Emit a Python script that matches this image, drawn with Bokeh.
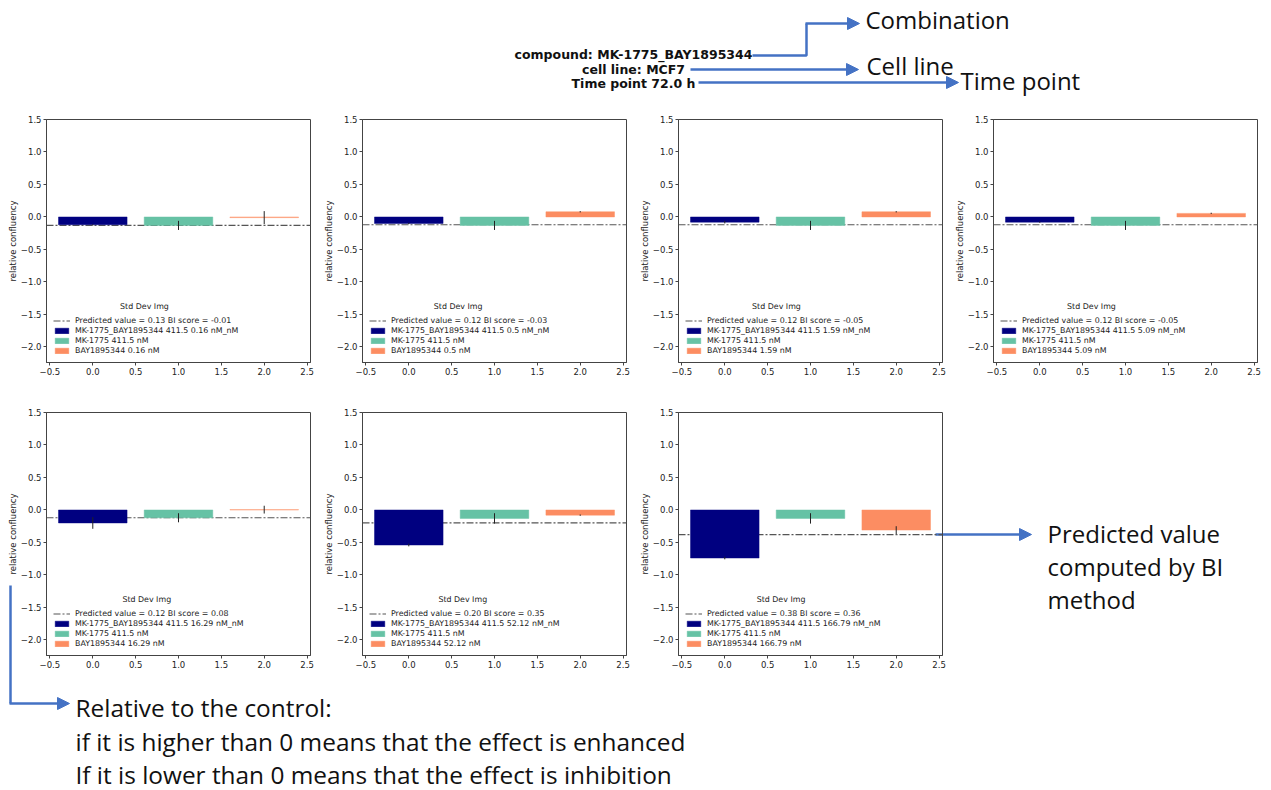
from bokeh.plotting import figure
from bokeh.models import (Range1d, ColumnDataSource, Legend, LegendItem, Label,
                          Arrow, NormalHead, FixedTicker, CustomJSTickFormatter)
from bokeh.embed import file_html
from bokeh.resources import INLINE
from bokeh.core.properties import value

# ---------------- data ----------------
COMPOUND = "MK-1775_BAY1895344"
CELL_LINE = "MCF7"
TIME_POINT = "72.0"
MK_DOSE = "411.5"
BAY_CONCS = ["0.16", "0.5", "1.59", "5.09", "16.29", "52.12", "166.79"]
PREDICTED = [0.13, 0.12, 0.12, 0.12, 0.12, 0.20, 0.38]
BI_SCORE = ["-0.01", "-0.03", "-0.05", "-0.05", "0.08", "0.35", "0.36"]
COMBO_VAL = [-0.12, -0.10, -0.08, -0.08, -0.20, -0.54, -0.74]
COMBO_ERR = [0.01, 0.01, 0.02, 0.01, 0.09, 0.02, 0.02]
MK_VAL = [-0.13, -0.13, -0.13, -0.13, -0.12, -0.13, -0.13]
MK_ERR = [0.07, 0.07, 0.07, 0.07, 0.07, 0.08, 0.08]
BAY_VAL = [-0.01, 0.08, 0.08, 0.055, 0.005, -0.08, -0.31]
BAY_ERR = [0.10, 0.01, 0.01, 0.01, 0.06, 0.01, 0.06]
X_POS = [0, 1, 2]
X_TICKS = [-0.5, 0.0, 0.5, 1.0, 1.5, 2.0, 2.5]
Y_TICKS = [-2.0, -1.5, -1.0, -0.5, 0.0, 0.5, 1.0, 1.5]
BAR_COLORS = ["#000080", "#66c2a5", "#fc8d62"]

XLIM = (-0.54, 2.54)
YLIM = (-2.24, 1.5)
FRAME_W, FRAME_H = 264, 243
BORDER_L, BORDER_T = 46, 5
FRAME_LEFTS = [46, 362, 678, 993, 46, 362, 678]
FRAME_TOPS = [119, 119, 119, 119, 412, 412, 412]

BLUE = "#4472C4"
DV = "DejaVu Sans"
LEG_FS = "7.9px"


def make_panel(i):
    p = figure(frame_width=FRAME_W, frame_height=FRAME_H,
               x_range=Range1d(*XLIM), y_range=Range1d(*YLIM),
               output_backend="svg", toolbar_location=None,
               min_border_left=BORDER_L, min_border_right=4,
               min_border_top=BORDER_T, min_border_bottom=22,
               background_fill_alpha=0, border_fill_alpha=0,
               outline_line_color="#444444", outline_line_width=1,
               styles={"position": "absolute",
                       "left": f"{FRAME_LEFTS[i] - BORDER_L}px",
                       "top": f"{FRAME_TOPS[i] - BORDER_T}px"})
    p.grid.visible = False

    pred_y = -PREDICTED[i]
    line_r = p.line(x=[XLIM[0], XLIM[1]], y=[pred_y, pred_y],
                    line_color="#555555", line_width=1.2, line_dash="7 2 2 2")

    vals = [COMBO_VAL[i], MK_VAL[i], BAY_VAL[i]]
    errs = [COMBO_ERR[i], MK_ERR[i], BAY_ERR[i]]
    labels = [f"{COMPOUND} {MK_DOSE} {BAY_CONCS[i]} nM_nM",
              f"MK-1775 {MK_DOSE} nM",
              f"BAY1895344 {BAY_CONCS[i]} nM"]
    src = ColumnDataSource(dict(
        x=X_POS, top=vals, color=BAR_COLORS,
        lo=[v - e for v, e in zip(vals, errs)],
        hi=[v + e for v, e in zip(vals, errs)]))
    bars = p.vbar(x="x", top="top", bottom=0, width=0.8, fill_color="color",
                  line_color="color", line_alpha=0.45, line_width=1, source=src)
    p.segment(x0="x", y0="lo", x1="x", y1="hi", line_color="#222222",
              line_width=1, source=src)

    items = [LegendItem(label=f"Predicted value = {PREDICTED[i]:.2f} BI score = {BI_SCORE[i]}",
                        renderers=[line_r])]
    for k in range(3):
        items.append(LegendItem(label=labels[k], renderers=[bars], index=k))
    leg = Legend(items=items, location="bottom_left",
                 background_fill_alpha=0, border_line_alpha=0,
                 label_text_font_size=LEG_FS, label_text_font=DV,
                 label_text_color="#222222",
                 glyph_width=17, glyph_height=7, label_height=8,
                 label_standoff=5, spacing=1, padding=2, margin=5)
    p.add_layout(leg)

    px_per_x = FRAME_W / (XLIM[1] - XLIM[0])
    px_per_y = FRAME_H / (YLIM[1] - YLIM[0])
    longest = max(len(s) for s in labels)
    center_px = 7 + (22 + 4.57 * longest) / 2
    p.add_layout(Label(x=XLIM[0] + center_px / px_per_x,
                       y=YLIM[0] + 56.5 / px_per_y,
                       text="Std Dev Img", text_align="center",
                       text_baseline="middle", text_font_size=LEG_FS,
                       text_font=DV, text_color="#222222"))

    fmt = CustomJSTickFormatter(code="return tick.toFixed(1).replace('-', '\\u2212');")
    p.xaxis.ticker = FixedTicker(ticks=X_TICKS)
    p.yaxis.ticker = FixedTicker(ticks=Y_TICKS)
    p.xaxis.formatter = fmt
    p.yaxis.formatter = fmt
    p.yaxis.axis_label = "relative confluency"
    for ax in (p.xaxis, p.yaxis):
        ax.major_label_text_font_size = "8.5px"
        ax.major_label_text_font = DV
        ax.major_label_text_color = "#222222"
        ax.axis_line_color = "#444444"
        ax.major_tick_line_color = "#444444"
        ax.major_tick_out = 3
        ax.major_tick_in = 0
        ax.minor_tick_out = 0
        ax.minor_tick_in = 0
        ax.major_label_standoff = 2
        ax.axis_label_text_font_size = "8.5px"
        ax.axis_label_text_font_style = "normal"
        ax.axis_label_text_font = DV
        ax.axis_label_text_color = "#222222"
        ax.axis_label_standoff = 0
    return p


# ---------------- background / annotations ----------------
bg = figure(width=1271, height=790, x_range=Range1d(0, 1271), y_range=Range1d(790, 0),
            output_backend="svg", toolbar_location=None, min_border=0,
            min_border_left=0, min_border_right=0, min_border_top=0, min_border_bottom=0,
            x_axis_type=None, y_axis_type=None, outline_line_color=None,
            styles={"position": "absolute", "left": "0px", "top": "0px"})
bg.grid.visible = False

bg.text(x=[633, 633, 633], y=[54, 69, 83],
        text=[f"compound: {COMPOUND}", f"cell line: {CELL_LINE}", f"Time point {TIME_POINT} h"],
        text_align="center", text_baseline="middle", text_font=value(DV),
        text_font_style="bold", text_font_size="12.5px", text_color="#111111")

bg.line(x=[752, 806, 806], y=[55, 55, 23], line_color=BLUE, line_width=2.5)
bg.line(x=[10, 10], y=[585, 703], line_color=BLUE, line_width=2.5)


def arrow(x0, y0, x1, y1):
    bg.add_layout(Arrow(end=NormalHead(size=12, fill_color=BLUE, line_color=BLUE, line_width=1),
                        x_start=x0, y_start=y0, x_end=x1, y_end=y1,
                        line_color=BLUE, line_width=2.5))


arrow(805, 23, 859, 23)
arrow(690, 69, 858, 69)
arrow(698, 82, 958, 82)
arrow(935, 534, 1031, 534)
arrow(9, 703, 69, 703)

OS = value("Open Sans")
bg.text(x=[865], y=[19], text=["Combination"], text_font=OS, text_font_size="24px",
        text_baseline="middle", text_color="#111111")
bg.text(x=[866], y=[65], text=["Cell line"], text_font=OS, text_font_size="24px",
        text_baseline="middle", text_color="#111111")
bg.text(x=[960], y=[80], text=["Time point"], text_font=OS, text_font_size="24px",
        text_baseline="middle", text_color="#111111")
bg.text(x=[1047, 1047, 1047], y=[533, 566, 599],
        text=["Predicted value", "computed by BI", "method"],
        text_font=OS, text_font_size="24px", text_baseline="middle", text_color="#111111")
bg.text(x=[75, 75, 75], y=[707, 741, 774],
        text=["Relative to the control:",
              "if it is higher than 0 means that the effect is enhanced",
              "If it is lower than 0 means that the effect is inhibition"],
        text_font=OS, text_font_size="24.4px", text_baseline="middle", text_color="#111111")

panels = [make_panel(i) for i in range(7)]

open("out.html", "w").write(file_html([bg] + panels, INLINE))
